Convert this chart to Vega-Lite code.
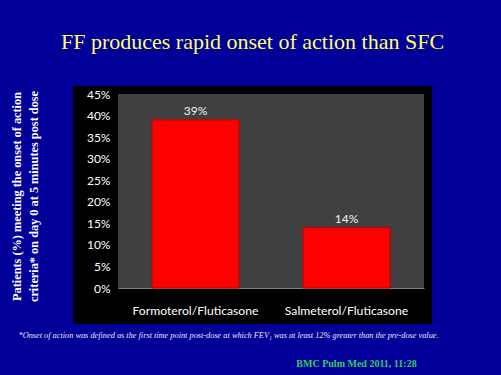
{
  "$schema": "https://vega.github.io/schema/vega-lite/v6.json",
  "width": 359,
  "height": 238,
  "autosize": {"type": "none"},
  "padding": {"left": 73, "top": 86, "right": 69, "bottom": 51},
  "background": "#000099",
  "config": {"view": {"fill": "#000000", "stroke": null}, "axis": {"grid": false}},
  "title": {"text": "FF produces rapid onset of action than SFC", "font": "Liberation Serif", "fontSize": 22, "fontWeight": "normal", "color": "#ffff66", "anchor": "middle", "offset": 32},
  "layer": [
    {
      "data": {"values": [{"gx0": 0, "gx1": 1, "gy0": 0, "gy1": 0.45}]},
      "mark": {"type": "rect", "color": "#404040"},
      "encoding": {
        "x": {"field": "gx0", "type": "quantitative", "scale": {"domain": [0, 1], "range": [45, 351]},
          "axis": {"orient": "bottom", "domain": false, "ticks": false, "labels": false, "grid": false, "title": "BMC Pulm Med 2011, 11:28", "titleFont": "Liberation Serif", "titleFontSize": 10, "titleFontWeight": "bold", "titleColor": "#33cc66", "titlePadding": 34, "titleX": 283, "titleAnchor": "middle", "titleAlign": "center"}},
        "x2": {"field": "gx1"},
        "y": {"field": "gy0", "type": "quantitative", "scale": {"domain": [0, 0.45], "range": [202, 8]},
          "axis": {"orient": "left", "offset": -45, "values": [0, 0.05, 0.1, 0.15, 0.2, 0.25, 0.3, 0.35, 0.4, 0.45], "format": ".0%", "labelColor": "#ffffff", "labelFont": "Lato", "labelFontSize": 12, "labelPadding": 8, "ticks": false, "domainColor": "#808080", "title": ["Patients (%) meeting the onset of action", "criteria* on day 0 at 5 minutes post dose"], "titleFont": "Liberation Serif", "titleFontSize": 12.3, "titleFontWeight": "bold", "titleColor": "#ffffff", "titlePadding": 46, "titleLineHeight": 17, "titleY": 110}},
        "y2": {"field": "gy1"}
      }
    },
    {
      "data": {"values": [{"treatment": "Formoterol/Fluticasone", "pct": 0.39}, {"treatment": "Salmeterol/Fluticasone", "pct": 0.14}]},
      "encoding": {
        "x": {"field": "treatment", "type": "nominal", "sort": null, "scale": {"range": [45, 351], "paddingInner": 0.424, "paddingOuter": 0.225},
          "axis": {"orient": "bottom", "offset": -36, "ticks": false, "domainColor": "#808080", "labelColor": "#ffffff", "labelFont": "Lato", "labelFontSize": 12.2, "labelPadding": 16, "labelAngle": 0, "title": "*Onset of action was defined as the first time point post-dose at which FEV₁ was at least 12% greater than the pre-dose value.", "titleFont": "Liberation Serif", "titleFontStyle": "italic", "titleFontSize": 8.3, "titleFontWeight": "normal", "titleColor": "#e8e8e8", "titlePadding": 14, "titleX": -55, "titleAnchor": "start", "titleAlign": "left"}},
        "y": {"field": "pct", "type": "quantitative", "scale": {"domain": [0, 0.45], "range": [202, 8]},
          "axis": {"orient": "left", "offset": -45, "values": [0, 0.05, 0.1, 0.15, 0.2, 0.25, 0.3, 0.35, 0.4, 0.45], "format": ".0%", "labelColor": "#ffffff", "labelFont": "Lato", "labelFontSize": 12, "labelPadding": 8, "ticks": false, "domainColor": "#808080", "title": ["Patients (%) meeting the onset of action", "criteria* on day 0 at 5 minutes post dose"], "titleFont": "Liberation Serif", "titleFontSize": 12.3, "titleFontWeight": "bold", "titleColor": "#ffffff", "titlePadding": 46, "titleLineHeight": 17, "titleY": 110}}
      },
      "layer": [
        {"mark": {"type": "bar", "color": "#ff0000", "stroke": "#c00000", "strokeWidth": 1}},
        {"mark": {"type": "text", "dy": -9, "color": "#f0f0f0", "font": "Lato", "fontSize": 12},
          "encoding": {"text": {"field": "pct", "type": "quantitative", "format": ".0%"}}}
      ]
    }
  ],
  "resolve": {"scale": {"x": "independent"}}
}
